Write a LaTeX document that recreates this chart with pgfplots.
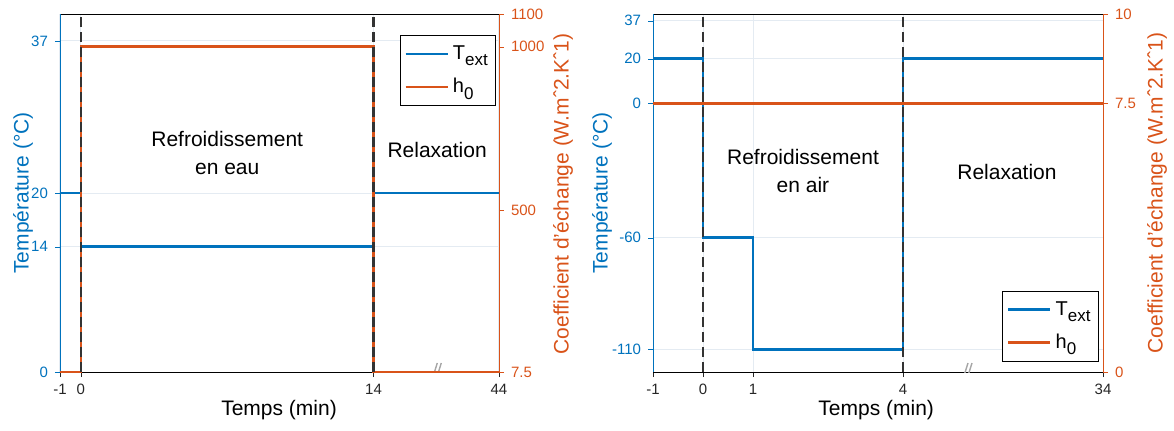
\documentclass[border=0pt]{standalone}
\usepackage{fontspec}
\setmainfont{Liberation Sans}
\usepackage{pgfplots}
\pgfplotsset{compat=1.18}

\definecolor{tblue}{HTML}{0072BD}
\definecolor{torange}{HTML}{D95319}
\definecolor{gridc}{HTML}{E4EBF2}
\definecolor{tickc}{HTML}{262626}

\newcommand{\sub}[1]{\raisebox{-0.6ex}{\fontsize{8.5}{9}\selectfont #1}}

\tikzset{
  lbl/.style={font=\fontsize{10.5}{14}\selectfont, align=center},
  brk/.style={gray!70, line width=0.7pt},
}

\pgfplotsset{
  base/.style={
    scale only axis, height=179pt,
    /pgf/number format/assume math mode=true,
    tick label style={font=\fontsize{7.5}{9}\selectfont},
    label style={font=\fontsize{10.5}{12}\selectfont},
    tick align=outside, major tick length=2.5pt,
    xticklabel style={text=tickc},
  },
  leftax/.style={
    base, axis y line*=left, xtick pos=left,
    y axis line style={tblue}, ytick style={tblue},
    yticklabel style={text=tblue},
    x axis line style={black}, xtick style={tickc},
    grid=major, major grid style={gridc, line width=0.5pt},
  },
  rightax/.style={
    base, axis y line*=right, axis x line=none, clip=false,
    y axis line style={torange}, ytick style={torange},
    yticklabel style={text=torange},
    ylabel style={text=torange},
    legend cell align=left,
    legend image code/.code={\draw[##1] (0pt,0pt) -- (21pt,0pt);},
    legend style={draw=black, fill=white, font=\fontsize{10}{12}\selectfont,
      row sep=4pt, inner xsep=2pt, inner ysep=3pt},
  },
  tline/.style={const plot, tblue, line width=1.4pt},
  hline/.style={const plot, torange, line width=1.4pt},
  vdash/.style={black!80, line width=1.2pt, dash pattern=on 5pt off 2.5pt, forget plot},
}

\begin{document}
\begin{tikzpicture}
% ---------- left panel (water cooling), time axis broken after 14 min
\begin{axis}[leftax, at={(0,0)}, width=219.5pt,
  xmin=-1, xmax=20, ymin=0, ymax=40,
  xtick={-1,0,14,20}, xticklabels={-1,0,14,44},
  ytick={0,14,20,37}, yticklabels={0,14,20,37},
  xlabel={Temps (min)},
  xlabel style={at={(axis description cs:0.499,-0.106)}, anchor=center},
  ylabel={Température (°C)},
  ylabel style={text=tblue, at={(axis description cs:-0.084,0.5)}, anchor=center},
]
\addplot[tline] coordinates {(-1,20) (0,14) (14,20) (20,20)};
\node[lbl] at (axis cs:7,24.5) {Refroidissement\\en eau};
\node[lbl] at (axis cs:17.04,24.8) {Relaxation};
\draw[brk] (axis cs:17.0,0) ++(-2pt,-3.5pt) -- ++(2.5pt,8pt);
\draw[brk] (axis cs:17.0,0) ++(0pt,-3.5pt) -- ++(2.5pt,8pt);
\end{axis}
\begin{axis}[rightax, at={(0,0)}, width=219.5pt,
  xmin=-1, xmax=20, ymin=7.5, ymax=1100,
  ytick={7.5,500,1000,1100}, yticklabels={7.5,500,1000,1100},
  ylabel={Coefficient d'échange (W.m\char"02C6 2.K\char"02C6 1)},
  ylabel style={at={(axis description cs:1.146,0.497)}, anchor=center},
  legend style={at={(0.774,0.941)}, anchor=north west},
]
\addlegendimage{tblue, line width=1.4pt}
\addlegendentry{T\sub{ext}}
\addplot[hline] coordinates {(-1,7.5) (0,1000) (14,7.5) (20,7.5)};
\addlegendentry{h\sub{0}}
\addplot[vdash] coordinates {(0,7.5) (0,1100)};
\addplot[vdash] coordinates {(14,7.5) (14,1100)};
\end{axis}

% ---------- right panel (air cooling), time axis broken after 4 min
\begin{axis}[leftax, at={(296.5pt,0)}, width=225pt,
  xmin=-1, xmax=8, ymin=-120, ymax=40,
  xtick={-1,0,1,4,8}, xticklabels={-1,0,1,4,34},
  ytick={-110,-60,0,20,37}, yticklabels={-110,-60,0,20,37},
  xlabel={Temps (min)},
  xlabel style={at={(axis description cs:0.496,-0.106)}, anchor=center},
  ylabel={Température (°C)},
  ylabel style={text=tblue, at={(axis description cs:-0.113,0.5)}, anchor=center},
]
\addplot[tline] coordinates {(-1,20) (0,-60) (1,-110) (4,20) (8,20)};
\node[lbl] at (axis cs:2.0,-30) {Refroidissement\\en air};
\node[lbl] at (axis cs:6.08,-30.4) {Relaxation};
\draw[brk] (axis cs:5.28,-120) ++(-2pt,-3.5pt) -- ++(2.5pt,8pt);
\draw[brk] (axis cs:5.28,-120) ++(0pt,-3.5pt) -- ++(2.5pt,8pt);
\end{axis}
\begin{axis}[rightax, at={(296.5pt,0)}, width=225pt,
  xmin=-1, xmax=8, ymin=0, ymax=10,
  ytick={0,7.5,10}, yticklabels={0,7.5,10},
  ylabel={Coefficient d'échange (W.m\char"02C6 2.K\char"02C6 1)},
  ylabel style={at={(axis description cs:1.12,0.5)}, anchor=center},
  legend style={at={(0.991,0.028)}, anchor=south east},
]
\addlegendimage{tblue, line width=1.4pt}
\addlegendentry{T\sub{ext}}
\addplot[hline] coordinates {(-1,7.5) (8,7.5)};
\addlegendentry{h\sub{0}}
\addplot[vdash] coordinates {(0,0) (0,10)};
\addplot[vdash] coordinates {(4,0) (4,10)};
\end{axis}

\pgfresetboundingbox
\path (-30pt,-29pt) rectangle (557pt,186pt);
\end{tikzpicture}
\end{document}
